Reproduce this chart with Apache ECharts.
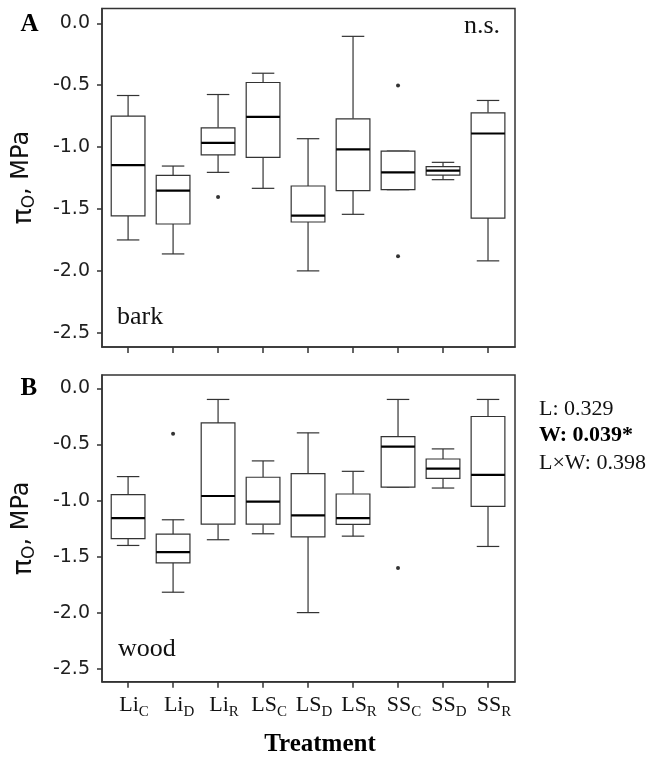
<!DOCTYPE html>
<html>
<head>
<meta charset="utf-8">
<script src="https://cdn.jsdelivr.net/npm/echarts@6/dist/echarts.min.js"></script>
<style>html,body{margin:0;padding:0;background:#fff;}#chart{width:665px;height:759px;}</style>
</head>
<body>
<div id="chart"></div>
<script>
// ---- data ----
const categoryMain = ['Li', 'Li', 'Li', 'LS', 'LS', 'LS', 'SS', 'SS', 'SS'];
const categorySub  = ['C', 'D', 'R', 'C', 'D', 'R', 'C', 'D', 'R'];
const yTicks = [-2.5, -2.0, -1.5, -1.0, -0.5, 0.0];

// Panel A: bark
const barkMin    = [-1.750, -1.863, -1.204, -1.333, -2.000, -1.543, -1.344, -1.263, -1.919];
const barkQ1     = [-1.556, -1.621, -1.062, -1.083, -1.605, -1.352, -1.344, -1.226, -1.573];
const barkMedian = [-1.145, -1.352, -0.965, -0.755, -1.553, -1.018, -1.204, -1.190, -0.890];
const barkQ3     = [-0.750, -1.228, -0.844, -0.478, -1.314, -0.771, -1.032, -1.158, -0.723];
const barkMax    = [-0.583, -1.153, -0.575, -0.403, -0.932, -0.105, -1.032, -1.123, -0.623];
const barkOutliers = [[2, -1.403], [6, -0.502], [6, -1.881]];

// Panel B: wood
const woodMin    = [-1.400, -1.817, -1.349, -1.296, -1.999, -1.317, -0.879, -0.888, -1.409];
const woodQ1     = [-1.340, -1.555, -1.210, -1.210, -1.323, -1.212, -0.879, -0.801, -1.052];
const woodMedian = [-1.156, -1.460, -0.959, -1.010, -1.132, -1.156, -0.518, -0.715, -0.771];
const woodQ3     = [-0.947, -1.299, -0.307, -0.792, -0.760, -0.941, -0.429, -0.629, -0.250];
const woodMax    = [-0.786, -1.171, -0.098, -0.646, -0.396, -0.739, -0.098, -0.539, -0.098];
const woodOutliers = [[1, -0.405], [6, -1.600]];

const statsText = ['L: 0.329', 'W: 0.039*', 'L\u00d7W: 0.398'];

// ---- build ----
const BOX_W = 0.75, CAP_W = 0.5;
const LINE = '#333';
function rows(mn, q1, md, q3, mx) {
  return mn.map((v, i) => [i, mn[i], q1[i], md[i], q3[i], mx[i]]);
}
function renderBox(params, api) {
  const x = api.value(0);
  const lo = api.coord([x, api.value(1)]);
  const q1 = api.coord([x, api.value(2)]);
  const md = api.coord([x, api.value(3)]);
  const q3 = api.coord([x, api.value(4)]);
  const hi = api.coord([x, api.value(5)]);
  const bw = api.size([BOX_W, 0])[0];
  const cw = api.size([CAP_W, 0])[0];
  const cx = lo[0];
  const st = { stroke: LINE, lineWidth: 1.2, fill: null };
  return {
    type: 'group',
    children: [
      { type: 'line', shape: { x1: cx, y1: hi[1], x2: cx, y2: q3[1] }, style: st },
      { type: 'line', shape: { x1: cx, y1: q1[1], x2: cx, y2: lo[1] }, style: st },
      { type: 'line', shape: { x1: cx - cw / 2, y1: hi[1], x2: cx + cw / 2, y2: hi[1] }, style: st },
      { type: 'line', shape: { x1: cx - cw / 2, y1: lo[1], x2: cx + cw / 2, y2: lo[1] }, style: st },
      { type: 'rect', shape: { x: cx - bw / 2, y: q3[1], width: bw, height: q1[1] - q3[1] },
        style: { stroke: LINE, lineWidth: 1.2, fill: '#fff' } },
      { type: 'line', shape: { x1: cx - bw / 2, y1: md[1], x2: cx + bw / 2, y2: md[1] },
        style: { stroke: '#000', lineWidth: 2.2 } }
    ]
  };
}

const SERIF = '"Liberation Serif", "Times New Roman", serif';
const SANS = '"DejaVu Sans", sans-serif';

function xAxisDef(gridIndex, showLabels) {
  return {
    type: 'value', gridIndex, min: -0.58, max: 8.6, position: 'bottom',
    axisLine: { show: true, onZero: false, lineStyle: { color: '#333', width: 1.5 } },
    splitLine: { show: false },
    axisTick: { show: true, length: 6, customValues: categoryMain.map((c, i) => i),
      lineStyle: { color: '#333', width: 1.5 } },
    axisLabel: {
      show: showLabels, margin: 13, customValues: categoryMain.map((c, i) => i),
      padding: [0, 0, 0, 12],
      formatter: v => { const i = Math.round(v); return '{m|' + categoryMain[i] + '}{s|' + categorySub[i] + '}'; },
      rich: {
        m: { fontFamily: SERIF, fontSize: 22, lineHeight: 22, color: '#111', verticalAlign: 'top' },
        s: { fontFamily: SERIF, fontSize: 15, lineHeight: 15, color: '#111', padding: [12.6, 0, 0, 0] }
      }
    }
  };
}
function yAxisDef(gridIndex) {
  return {
    type: 'value', gridIndex, min: -2.615, max: 0.12, position: 'left',
    axisLine: { show: true, onZero: false, lineStyle: { color: '#333', width: 1.5 } },
    splitLine: { show: false },
    axisTick: { show: true, length: 5, customValues: yTicks, lineStyle: { color: '#333', width: 1.5 } },
    axisLabel: { customValues: yTicks, margin: 12, formatter: v => v.toFixed(1),
      fontFamily: SANS, fontSize: 19, color: '#1e1e1e' },
    name: '{p|\u03c0}{s|O}{m|, MPa}',
    nameLocation: 'middle', nameRotate: 90, nameGap: 64,
    nameTextStyle: {
      rich: {
        p: { fontFamily: SANS, fontSize: 27, lineHeight: 28, color: '#111', verticalAlign: 'top' },
        s: { fontFamily: SANS, fontSize: 17, lineHeight: 17, color: '#111', padding: [11, 0, 0, 0] },
        m: { fontFamily: SANS, fontSize: 24, lineHeight: 28, color: '#111', verticalAlign: 'top' }
      }
    }
  };
}
function scatterPts(pts) { return pts.map(p => [p[0], p[1]]); }

const gridStyle = { show: true, borderColor: '#333', borderWidth: 1.5, backgroundColor: 'transparent', outerBoundsMode: 'none' };

const option = {
  animation: false,
  backgroundColor: '#fff',
  grid: [
    Object.assign({ left: 102, top: 8.5, width: 413, height: 338.5 }, gridStyle),
    Object.assign({ left: 102, top: 375, width: 413, height: 306.7 }, gridStyle)
  ],
  xAxis: [xAxisDef(0, false), xAxisDef(1, true)],
  yAxis: [yAxisDef(0), yAxisDef(1)],
  series: [
    { type: 'custom', xAxisIndex: 0, yAxisIndex: 0, renderItem: renderBox,
      encode: { x: 0, y: [1, 2, 3, 4, 5] },
      data: rows(barkMin, barkQ1, barkMedian, barkQ3, barkMax) },
    { type: 'scatter', xAxisIndex: 0, yAxisIndex: 0, symbolSize: 4,
      itemStyle: { color: '#000' }, data: scatterPts(barkOutliers) },
    { type: 'custom', xAxisIndex: 1, yAxisIndex: 1, renderItem: renderBox,
      encode: { x: 0, y: [1, 2, 3, 4, 5] },
      data: rows(woodMin, woodQ1, woodMedian, woodQ3, woodMax) },
    { type: 'scatter', xAxisIndex: 1, yAxisIndex: 1, symbolSize: 4,
      itemStyle: { color: '#000' }, data: scatterPts(woodOutliers) }
  ],
  graphic: [
    { type: 'text', style: { text: 'A', x: 20.5, y: 24.8, font: 'bold 25px ' + SERIF, fill: '#000', verticalAlign: 'middle' } },
    { type: 'text', style: { text: 'B', x: 20.5, y: 388.2, font: 'bold 25px ' + SERIF, fill: '#000', verticalAlign: 'middle' } },
    { type: 'text', style: { text: 'n.s.', x: 500, y: 26, font: '26px ' + SERIF, fill: '#111', align: 'right', verticalAlign: 'middle' } },
    { type: 'text', style: { text: 'bark', x: 117, y: 317, font: '26px ' + SERIF, fill: '#111', verticalAlign: 'middle' } },
    { type: 'text', style: { text: 'wood', x: 118, y: 649.5, font: '26px ' + SERIF, fill: '#111', verticalAlign: 'middle' } },
    { type: 'text', style: { text: 'Treatment', x: 320, y: 744.8, font: 'bold 25px ' + SERIF, fill: '#000', align: 'center', verticalAlign: 'middle' } },
    { type: 'text', style: { text: statsText[0], x: 539, y: 409.2, font: '22px ' + SERIF, fill: '#111', verticalAlign: 'middle' } },
    { type: 'text', style: { text: statsText[1], x: 539, y: 435.8, font: 'bold 22px ' + SERIF, fill: '#000', verticalAlign: 'middle' } },
    { type: 'text', style: { text: statsText[2], x: 539, y: 463.2, font: '22px ' + SERIF, fill: '#111', verticalAlign: 'middle' } }
  ]
};

const chart = echarts.init(document.getElementById('chart'), null, { renderer: 'canvas' });
chart.setOption(option);
</script>
</body>
</html>
